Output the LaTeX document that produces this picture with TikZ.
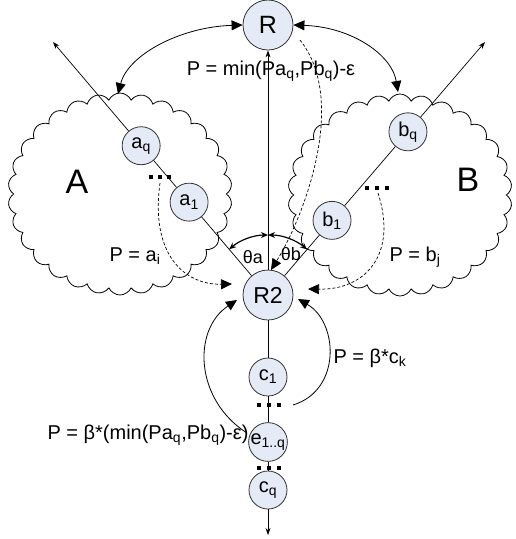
\documentclass[tikz,border=0pt]{standalone}
\usepackage{fontspec}
\setmainfont{Liberation Sans}
\usetikzlibrary{shapes.symbols,arrows.meta,calc}
\definecolor{nodefill}{RGB}{228,234,246}
\begin{document}
\begin{tikzpicture}[x=1pt,y=1pt,
  nd/.style={circle, draw=black!80, fill=nodefill, line width=0.8pt, minimum size=38pt, inner sep=0pt, font=\fontsize{20}{20}\selectfont},
  bignd/.style={nd, minimum size=50pt, font=\fontsize{25}{25}\selectfont},
  cloudbox/.style={cloud, draw=black, line width=0.8pt, cloud puffs=30, cloud puff arc=130, cloud ignores aspect, minimum width=224pt, minimum height=202pt, inner sep=0pt},
  lab/.style={inner sep=0pt, font=\fontsize{20}{24}\selectfont},
  biglab/.style={inner sep=0pt, font=\fontsize{34}{34}\selectfont},
  thin/.style={line width=0.7pt},
  smalltip/.style={thin, -{Stealth[length=7pt,width=5pt]}},
  bigtip/.style={line width=0.8pt, -{Triangle[length=11pt,width=10pt]}},
  bigboth/.style={line width=0.8pt, {Triangle[length=11pt,width=10pt]}-{Triangle[length=11pt,width=10pt]}},
  dashtip/.style={line width=0.7pt, dash pattern=on 3pt off 2pt, -{Triangle[length=11pt,width=10pt]}},
  thetaarc/.style={line width=1.2pt, {Stealth[length=7pt,width=6pt]}-{Stealth[length=7pt,width=6pt]}},
  dotsq/.style={fill=black}
]
\useasboundingbox (0,0) rectangle (515,-539);

% clouds
\node[cloudbox] (cA) at (120,-194) {};
\node[cloudbox] (cB) at (400,-195) {};
\node[biglab] (lA) at (77,-182) {A};
\node[biglab] (lB) at (468,-180) {B};

% main nodes
\node[bignd] (R) at (268,-25) {R};
\node[bignd, font=\fontsize{23}{23}\selectfont] (R2) at (268,-295) {R2};
\coordinate (atip) at (53,-42);
\coordinate (btip) at (485,-42);
\node[nd] (aq) at ($(R2)!0.59!(atip)$) {a\textsubscript{q}};
\node[nd] (a1) at ($(R2)!0.367!(atip)$) {a\textsubscript{1}};
\node[nd] (bq) at ($(R2)!0.645!(btip)$) {b\textsubscript{q}};
\node[nd] (b1) at ($(R2)!0.295!(btip)$) {b\textsubscript{1}};
\node[nd] (c1) at (268,-377) {c\textsubscript{1}};
\node[nd] (e) at (268,-442) {e\textsubscript{1..q}};
\node[nd] (cq) at (268,-490) {c\textsubscript{q}};
\coordinate (cend) at (268,-535);

% straight connectors
\draw[thin] (R2) -- (a1);
\draw[thin] (a1) -- (aq);
\draw[smalltip] (aq) -- (atip);
\draw[thin] (R2) -- (b1);
\draw[thin] (b1) -- (bq);
\draw[smalltip] (bq) -- (btip);
\draw[smalltip] (R2) -- (R);
\draw[thin] (R2) -- (c1);
\draw[thin] (c1) -- (e);
\draw[thin] (e) -- (cq);
\draw[smalltip] (cq) -- (cend);

% dots
\foreach \x in {151,160,169} \fill[dotsq] (\x-1.7,-177-1.7) rectangle ++(3.4,3.4);
\foreach \x in {367,377,387} \fill[dotsq] (\x-1.7,-188-1.7) rectangle ++(3.4,3.4);
\foreach \x in {259,269,279} \fill[dotsq] (\x-1.7,-405-1.7) rectangle ++(3.4,3.4);
\foreach \x in {259,269,279} \fill[dotsq] (\x-1.7,-468-1.7) rectangle ++(3.4,3.4);

% big curved arrows R <-> clouds
\coordinate (Atop) at (118,-94);
\coordinate (Btop) at (398,-92);
\draw[bigboth] (Atop) .. controls (128,-55) and (180,-27) .. (R.west);
\draw[bigboth] (R.east) .. controls (352,-27) and (392,-55) .. (Btop);

% dashed arrows
\coordinate (dA) at (160,-183);
\coordinate (dB) at (378,-193);
\coordinate (dR) at (300,-40);
\coordinate (tA) at (232,-284);
\coordinate (tB) at (308,-289);
\coordinate (tR) at (271,-270);
\draw[dashtip] (dA) .. controls (150,-255) and (185,-285) .. (tA);
\draw[dashtip] (dB) .. controls (398,-255) and (365,-290) .. (tB);
\draw[dashtip] (dR) .. controls (348,-100) and (305,-215) .. (tR);

% bottom curved arrows
\coordinate (sL) at (247,-433);
\coordinate (sR) at (293,-405);
\coordinate (tL) at (237,-300);
\coordinate (tRR) at (298,-299);
\draw[bigtip] (sL) .. controls (195,-400) and (192,-330) .. (tL);
\draw[bigtip] (sR) .. controls (342,-390) and (338,-322) .. (tRR);

% theta arcs
\draw[thetaarc] ($(R2.center)+(130.35:60)$) arc[start angle=130.35, end angle=90, radius=60];
\draw[thetaarc] ($(R2.center)+(90:60)$) arc[start angle=90, end angle=49.4, radius=60];
\node[lab, font=\fontsize{18}{18}\selectfont] (ta) at (253,-257) {θa};
\node[lab, font=\fontsize{18}{18}\selectfont] (tb) at (291,-254) {θb};

% labels
\node[lab] (pR) at (271,-71) {P = min(Pa\textsubscript{q},Pb\textsubscript{q})-ε};
\node[lab] (pA) at (135,-256) {P = a\textsubscript{i}};
\node[lab] (pB) at (415,-257) {P = b\textsubscript{j}};
\node[lab] (pC) at (370,-358) {P = β*c\textsubscript{k}};
\node[lab] (pE) at (148,-435) {P = β*(min(Pa\textsubscript{q},Pb\textsubscript{q})-ε)};
\end{tikzpicture}
\end{document}
